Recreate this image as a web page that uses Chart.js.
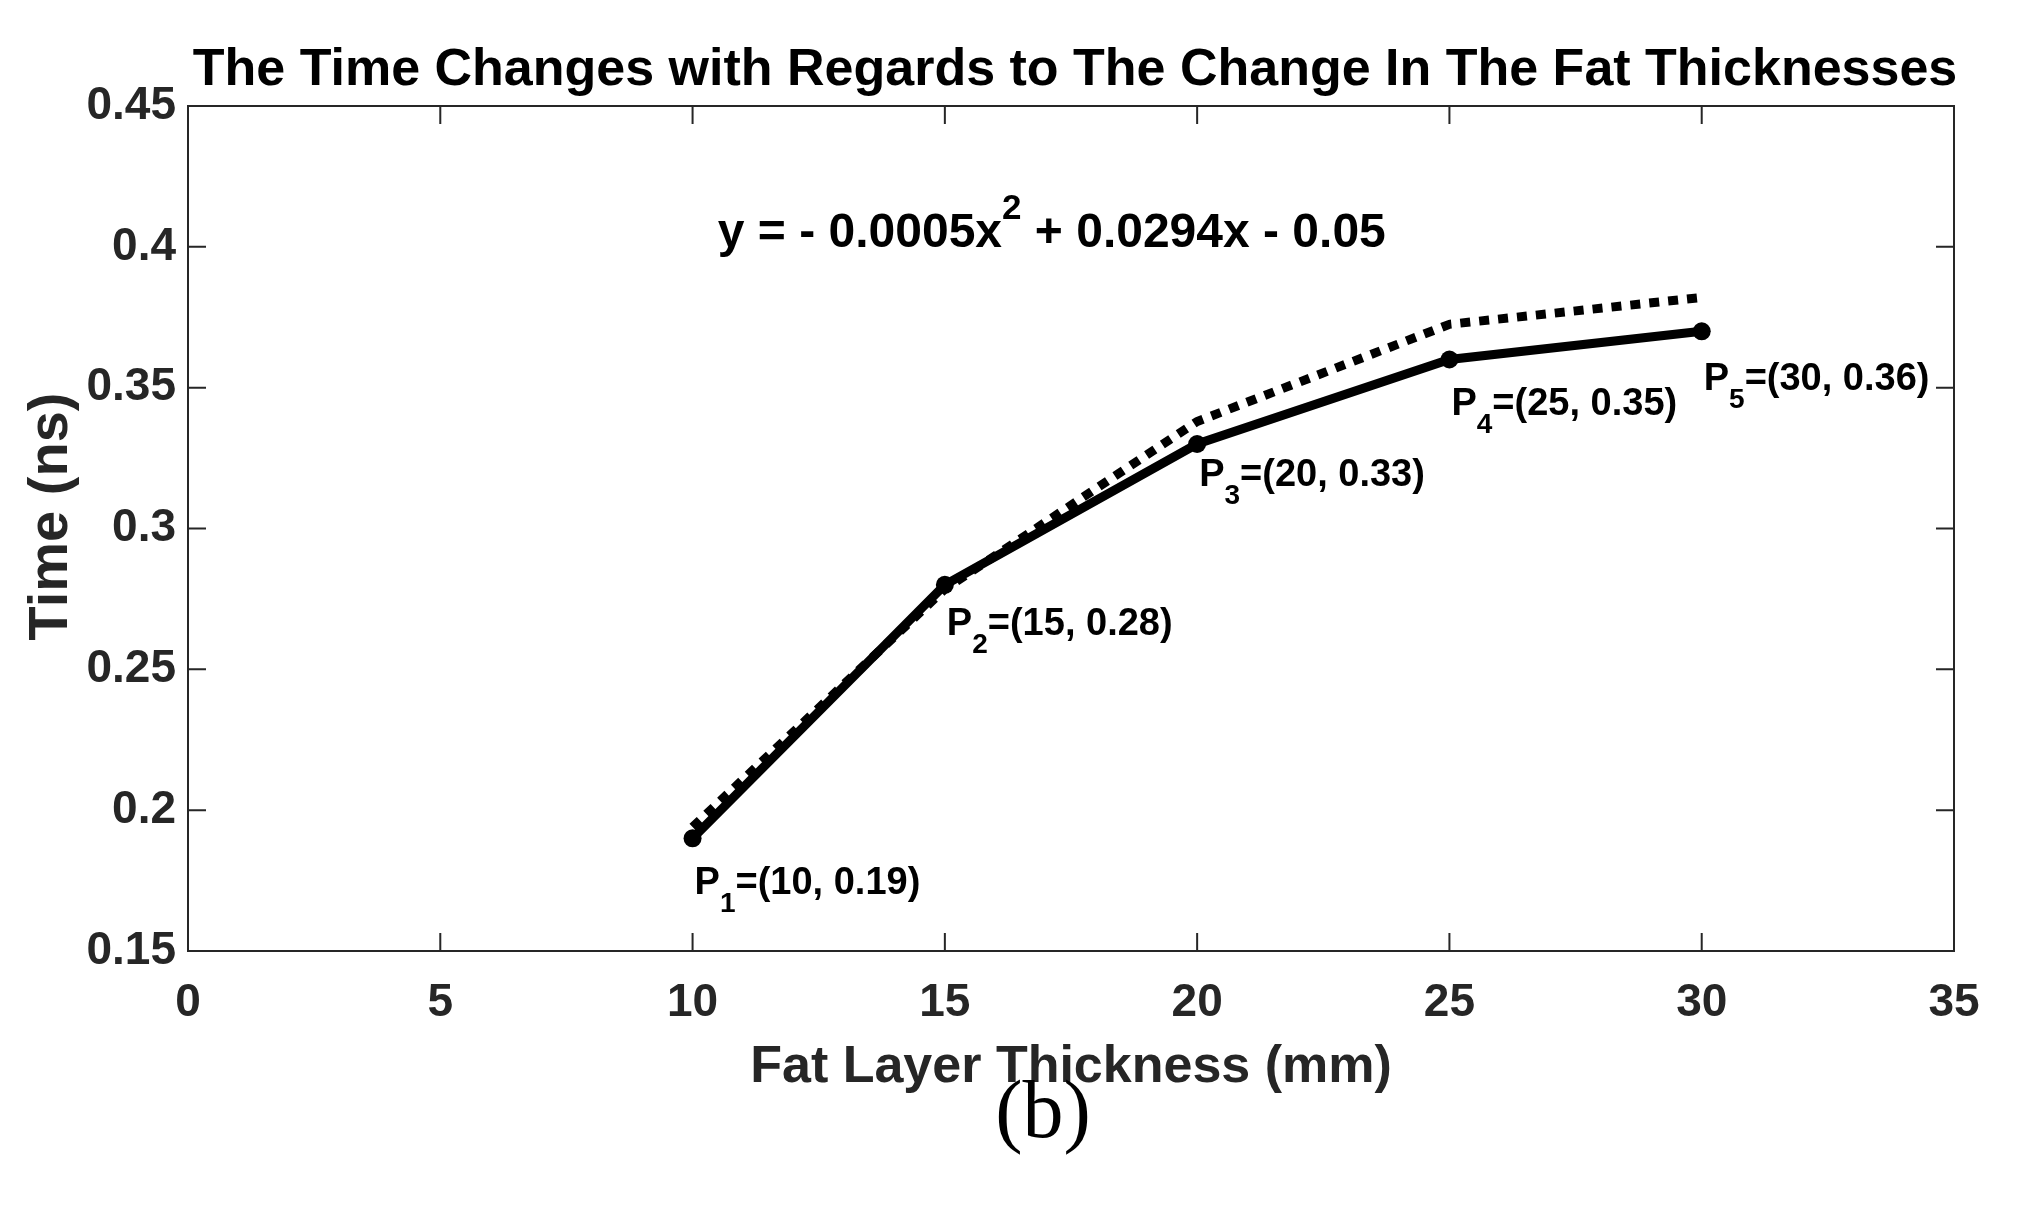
<!DOCTYPE html>
<html>
<head>
<meta charset="utf-8">
<script src="https://cdn.jsdelivr.net/npm/chart.js@4/dist/chart.umd.min.js"></script>
<style>
  html, body { margin: 0; padding: 0; background: #fff; }
  #wrap { width: 2019px; height: 1209px; }
</style>
</head>
<body>
<div id="wrap"><canvas id="fatChart" width="2019" height="1209"></canvas></div>
<script>
const thickness = [10, 15, 20, 25, 30];
const measuredTime = [0.19, 0.28, 0.33, 0.36, 0.37];
const fittedTime = [0.194, 0.2785, 0.338, 0.3725, 0.382];
const pointIndex = ['1', '2', '3', '4', '5'];
const pointText = ['=(10, 0.19)', '=(15, 0.28)', '=(20, 0.33)', '=(25, 0.35)', '=(30, 0.36)'];
const labelAnchorY = [0.175, 0.267, 0.32, 0.345, 0.354];
const xTicks = [0, 5, 10, 15, 20, 25, 30, 35];
const yTicks = [0.15, 0.2, 0.25, 0.3, 0.35, 0.4, 0.45];
const titleText = 'The Time Changes with Regards to The Change In The Fat Thicknesses';
const yTitleText = 'Time (ns)';
const equationParts = ['y = - 0.0005x', '2', ' + 0.0294x - 0.05'];
const equationAnchor = [10.5, 0.406];
const panelLetter = '(b)';

const AXIS_COLOR = '#262626';
const SANS = '"Liberation Sans", Arial, sans-serif';

// MATLAB style box: full frame with ticks pointing inward on all four sides,
// plus all the free text (title, equation, point labels, panel letter)
const decorations = {
  id: 'decorations',
  afterDatasetsDraw(chart) {
    const { ctx, chartArea: a, scales: { x, y } } = chart;
    ctx.save();

    ctx.strokeStyle = AXIS_COLOR;
    ctx.lineWidth = 2;
    ctx.strokeRect(a.left, a.top, a.right - a.left, a.bottom - a.top);
    const tl = 18;
    ctx.beginPath();
    xTicks.forEach((v) => {
      const px = x.getPixelForValue(v);
      ctx.moveTo(px, a.bottom); ctx.lineTo(px, a.bottom - tl);
      ctx.moveTo(px, a.top); ctx.lineTo(px, a.top + tl);
    });
    yTicks.forEach((v) => {
      const py = y.getPixelForValue(v);
      ctx.moveTo(a.left, py); ctx.lineTo(a.left + tl, py);
      ctx.moveTo(a.right, py); ctx.lineTo(a.right - tl, py);
    });
    ctx.stroke();

    ctx.fillStyle = '#000';
    ctx.textBaseline = 'alphabetic';

    // point labels, P with a subscript index
    const big = 38, small = 28;
    thickness.forEach((t, i) => {
      let px = x.getPixelForValue(t) + 2;
      const base = y.getPixelForValue(labelAnchorY[i]) + big * 0.36;
      ctx.textAlign = 'left';
      ctx.font = `bold ${big}px ${SANS}`;
      ctx.fillText('P', px, base);
      px += ctx.measureText('P').width;
      ctx.font = `bold ${small}px ${SANS}`;
      ctx.fillText(pointIndex[i], px, base + 18);
      px += ctx.measureText(pointIndex[i]).width;
      ctx.font = `bold ${big}px ${SANS}`;
      ctx.fillText(pointText[i], px, base);
    });

    // fitted equation with superscript
    const eqSize = 48, supSize = 35;
    let ex = x.getPixelForValue(equationAnchor[0]);
    const eb = y.getPixelForValue(equationAnchor[1]) + eqSize * 0.36;
    ctx.font = `bold ${eqSize}px ${SANS}`;
    ctx.fillText(equationParts[0], ex, eb);
    ex += ctx.measureText(equationParts[0]).width;
    ctx.font = `bold ${supSize}px ${SANS}`;
    ctx.fillText(equationParts[1], ex, eb - 28);
    ex += ctx.measureText(equationParts[1]).width;
    ctx.font = `bold ${eqSize}px ${SANS}`;
    ctx.fillText(equationParts[2], ex, eb);

    // title
    ctx.textAlign = 'center';
    ctx.textBaseline = 'middle';
    ctx.font = `bold 52px ${SANS}`;
    ctx.fillText(titleText, (a.left + a.right) / 2 + 4, 71);

    // y axis title, sits a little above the middle of the axis
    ctx.save();
    ctx.translate(52, (a.top + a.bottom) / 2 - 12);
    ctx.rotate(-Math.PI / 2);
    ctx.fillStyle = AXIS_COLOR;
    ctx.font = `bold 56px ${SANS}`;
    ctx.fillText(yTitleText, 0, 0);
    ctx.restore();

    // panel letter
    ctx.font = '82px "Liberation Serif", "Times New Roman", serif';
    ctx.fillText(panelLetter, (a.left + a.right) / 2 - 28, 1115);

    ctx.restore();
  }
};

new Chart(document.getElementById('fatChart'), {
  type: 'line',
  data: {
    datasets: [
      {
        label: 'Measured',
        data: thickness.map((t, i) => ({ x: t, y: measuredTime[i] })),
        borderColor: '#000',
        backgroundColor: '#000',
        borderWidth: 9,
        pointRadius: 9,
        pointBorderWidth: 0,
        tension: 0,
        order: 0,
      },
      {
        label: 'Fit',
        data: thickness.map((t, i) => ({ x: t, y: fittedTime[i] })),
        borderColor: '#000',
        borderWidth: 9,
        borderDash: [10, 9],
        borderCapStyle: 'butt',
        pointRadius: 0,
        tension: 0,
        order: 1,
      },
    ],
  },
  options: {
    responsive: false,
    animation: false,
    devicePixelRatio: 1,
    layout: { padding: { top: 106, right: 65, left: 0, bottom: 0 } },
    plugins: { legend: { display: false }, tooltip: { enabled: false } },
    scales: {
      x: {
        type: 'linear',
        min: 0,
        max: 35,
        afterBuildTicks: (s) => { s.ticks = xTicks.map((v) => ({ value: v })); },
        afterFit: (s) => { s.height = 258; },
        grid: { display: false, drawTicks: false },
        border: { display: false },
        ticks: {
          color: AXIS_COLOR,
          padding: 25,
          font: { family: SANS, size: 46, weight: 'bold' },
          callback: (v) => String(v),
        },
        title: {
          display: true,
          text: 'Fat Layer Thickness (mm)',
          color: AXIS_COLOR,
          font: { family: SANS, size: 52, weight: 'bold' },
          padding: { bottom: 110 },
        },
      },
      y: {
        type: 'linear',
        min: 0.15,
        max: 0.45,
        afterBuildTicks: (s) => { s.ticks = yTicks.map((v) => ({ value: v })); },
        afterFit: (s) => { s.width = 188; },
        grid: { display: false, drawTicks: false },
        border: { display: false },
        ticks: {
          color: AXIS_COLOR,
          padding: 12,
          font: { family: SANS, size: 46, weight: 'bold' },
          callback: (v) => String(Number(v.toFixed(2))),
        },
      },
    },
  },
  plugins: [decorations],
});
</script>
</body>
</html>
